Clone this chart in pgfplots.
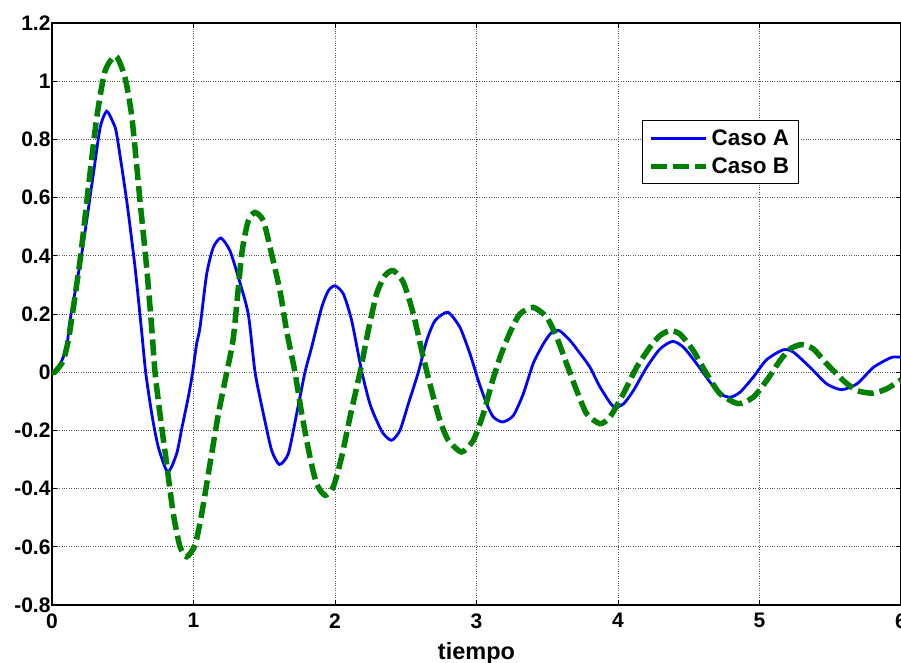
\documentclass[border=0pt]{standalone}
\usepackage{pgfplots}
\pgfplotsset{compat=1.18}
\usepackage{fontspec}
\setmainfont{Liberation Sans}
\definecolor{mblue}{RGB}{0,0,255}
\definecolor{mgreen}{RGB}{0,128,0}
\begin{document}
\begin{tikzpicture}
\begin{axis}[
  name=ax,
  at={(0pt,0pt)}, anchor=south west,
  scale only axis,
  width=849pt, height=582pt,
  xmin=0, xmax=6, ymin=-0.8, ymax=1.2,
  xtick={0,1,2,3,4,5,6},
  ytick={-0.8,-0.6,-0.4,-0.2,0,0.2,0.4,0.6,0.8,1,1.2},
  yticklabels={-0.8,-0.6,-0.4,-0.2,0,0.2,0.4,0.6,0.8,1,1.2},
  xticklabels={0,1,2,3,4,5,6},
  tick align=inside,
  major tick length=5pt,
  tick style={black, line width=1pt},
  axis line style={black, line width=2pt},
  grid=major,
  major grid style={dotted, gray!70!black, line width=0.8pt},
  ticklabel style={font=\fontsize{21}{24}\selectfont\bfseries},
  xticklabel style={yshift=-5pt},
  yticklabel style={xshift=2pt},
  xlabel={tiempo},
  xlabel style={font=\fontsize{23.5}{26}\selectfont\bfseries, yshift=-7pt},
  legend style={at={(0.6946,0.8333)}, anchor=north west, draw=black, line width=1pt,
    font=\fontsize{22.5}{26}\selectfont\bfseries, inner xsep=6pt, inner ysep=6pt, row sep=5pt,
    nodes={inner sep=3pt},
    cells={anchor=west}},
  legend image code/.code={\draw[#1] (0pt,0pt) -- (55pt,0pt);},
]
\addplot[mblue, line width=2.8pt, smooth, tension=0.4] coordinates {
(0,0) (0.05,0.02) (0.104,0.086) (0.127,0.177) (0.21,0.406) (0.292,0.68) (0.34,0.84) (0.386,0.897)
(0.43,0.86) (0.457,0.818) (0.528,0.589) (0.587,0.36) (0.633,0.143) (0.662,0) (0.705,-0.143)
(0.751,-0.257) (0.818,-0.343) (0.881,-0.28) (0.917,-0.194) (0.963,-0.086) (0.994,0) (1.022,0.097)
(1.046,0.154) (1.093,0.337) (1.14,0.429) (1.194,0.461) (1.258,0.417) (1.317,0.326) (1.387,0.2)
(1.435,0) (1.494,-0.143) (1.552,-0.268) (1.607,-0.317) (1.67,-0.28) (1.729,-0.143) (1.788,0)
(1.835,0.086) (1.906,0.223) (1.953,0.28) (2.0,0.297) (2.059,0.269) (2.118,0.177) (2.19,0)
(2.247,-0.109) (2.294,-0.166) (2.341,-0.211) (2.40,-0.234) (2.459,-0.2) (2.518,-0.109) (2.589,0)
(2.648,0.109) (2.707,0.177) (2.797,0.206) (2.883,0.154) (2.954,0.063) (3.013,-0.029) (3.072,-0.109)
(3.119,-0.154) (3.185,-0.171) (3.26,-0.149) (3.331,-0.074) (3.40,0.029) (3.472,0.097) (3.531,0.137)
(3.585,0.143) (3.661,0.109) (3.731,0.065) (3.802,0.017) (3.873,-0.051) (3.967,-0.118) (4.038,-0.109)
(4.109,-0.063) (4.203,0.017) (4.297,0.08) (4.386,0.106) (4.462,0.086) (4.556,0.029) (4.65,-0.034)
(4.721,-0.074) (4.792,-0.086) (4.862,-0.069) (4.956,-0.017) (5.05,0.043) (5.168,0.077) (5.239,0.069)
(5.357,0.017) (5.475,-0.04) (5.58,-0.060) (5.689,-0.04) (5.806,0.017) (5.934,0.051) (6.0,0.051)
};
\addlegendentry{Caso A}
\addplot[mgreen, line width=5.5pt, dash pattern=on 16pt off 6pt, smooth, tension=0.4] coordinates {
(0,0) (0.02,0) (0.08,0.04) (0.115,0.109) (0.127,0.143) (0.198,0.383) (0.257,0.634) (0.316,0.874)
(0.375,1.035) (0.452,1.086) (0.516,1.012) (0.565,0.874) (0.622,0.589) (0.669,0.36) (0.705,0.15)
(0.728,0) (0.763,-0.143) (0.81,-0.314) (0.857,-0.486) (0.905,-0.6) (0.952,-0.634) (1.011,-0.594)
(1.058,-0.486) (1.117,-0.314) (1.176,-0.143) (1.235,0) (1.282,0.12) (1.341,0.406) (1.387,0.52)
(1.435,0.549) (1.494,0.52) (1.552,0.406) (1.611,0.28) (1.658,0.143) (1.717,0) (1.765,-0.143)
(1.823,-0.291) (1.87,-0.383) (1.929,-0.423) (1.988,-0.394) (2.047,-0.291) (2.106,-0.154) (2.177,0)
(2.235,0.143) (2.294,0.269) (2.353,0.332) (2.412,0.349) (2.483,0.309) (2.554,0.2) (2.624,0.051)
(2.683,-0.063) (2.742,-0.166) (2.801,-0.234) (2.895,-0.274) (2.978,-0.234) (3.048,-0.143) (3.107,-0.04)
(3.166,0.051) (3.237,0.137) (3.307,0.2) (3.40,0.223) (3.496,0.189) (3.567,0.12) (3.637,0.029)
(3.708,-0.063) (3.779,-0.143) (3.873,-0.177) (3.943,-0.154) (4.038,-0.074) (4.132,0.017) (4.226,0.086)
(4.297,0.126) (4.367,0.143) (4.438,0.131) (4.532,0.074) (4.627,-0.006) (4.721,-0.074) (4.85,-0.108)
(4.956,-0.086) (5.05,-0.029) (5.145,0.04) (5.216,0.08) (5.298,0.095) (5.38,0.08) (5.475,0.029)
(5.593,-0.029) (5.687,-0.063) (5.80,-0.072) (5.899,-0.057) (6.0,-0.026)
};
\addlegendentry{Caso B}
\end{axis}
\pgfresetboundingbox
\useasboundingbox (-52pt,-57pt) rectangle (849pt,605pt);
\end{tikzpicture}
\end{document}
